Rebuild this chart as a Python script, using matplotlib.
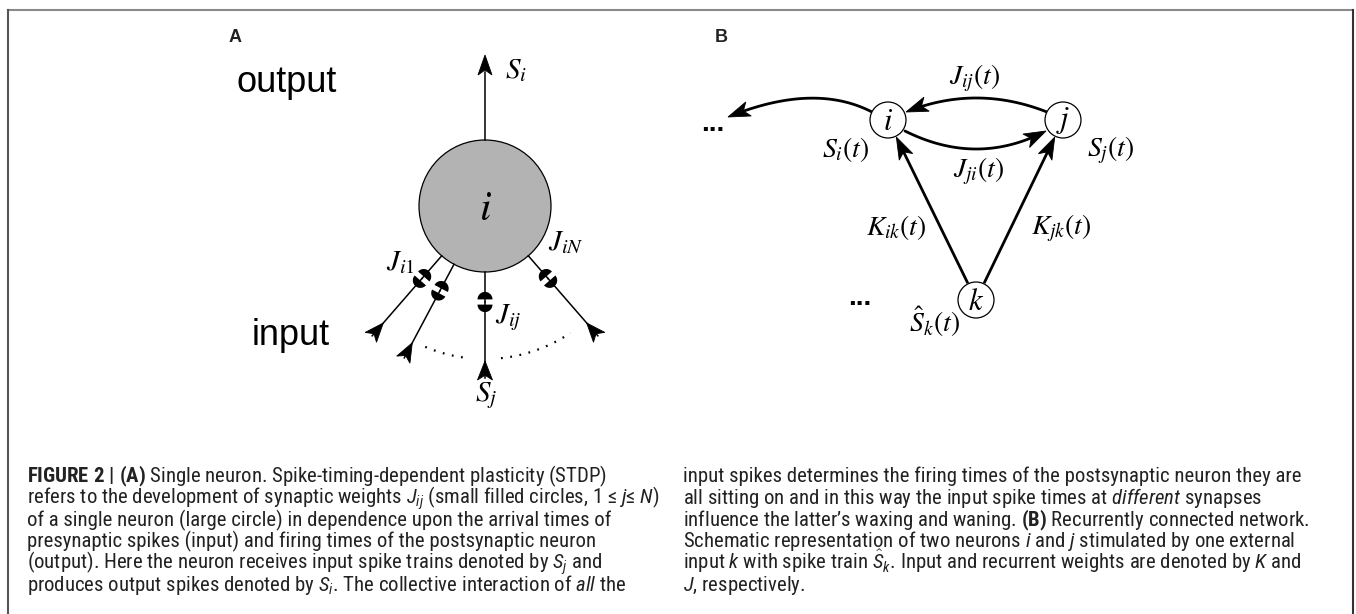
import matplotlib
matplotlib.use("Agg")
import matplotlib.pyplot as plt
from matplotlib import font_manager
from matplotlib.patches import Circle, Polygon
import numpy as np

# ---- diagram data (pixel layout of the original figure) ----
# panel A: single neuron
neuron_center = (485, 206)
neuron_radius = 66
input_angles = [131, 118, 90, 49]          # deg, screen coords (y down)
synapse_r = 96
input_end_r = 172
dot_arcs = [(113, 96), (84, 56)]
dot_arc_r = 153
a_labels = [r"$J_{i1}$", r"$J_{ij}$", r"$J_{iN}$", r"$S_i$", r"$S_j$"]
a_label_xy = [(400, 262), (508, 318), (566, 242), (516, 70), (486, 396)]

# panel B: recurrent network
node_names = ["i", "j", "k"]
node_xy = [(888, 120), (1063, 120), (976, 300)]
node_r = 18
b_labels = [r"$J_{ij}(t)$", r"$J_{ji}(t)$", r"$S_i(t)$", r"$S_j(t)$",
            r"$K_{ik}(t)$", r"$K_{jk}(t)$", r"$\hat{S}_k(t)$"]
b_label_xy = [(975, 78), (979, 171), (846, 150), (1111, 150),
              (896, 228), (1061, 228), (934, 322)]

# caption
caption_left = [
    r"$\mathbf{FIGURE\ 2\ |\ (A)}$ Single neuron. Spike-timing-dependent plasticity (STDP)",
    r"refers to the development of synaptic weights $J_{ij}$ (small filled circles, 1 ≤ $j$≤ $N$)",
    "of a single neuron (large circle) in dependence upon the arrival times of",
    "presynaptic spikes (input) and firing times of the postsynaptic neuron",
    r"(output). Here the neuron receives input spike trains denoted by $S_j$ and",
    r"produces output spikes denoted by $S_i$. The collective interaction of $all$ the",
]
caption_right = [
    "input spikes determines the firing times of the postsynaptic neuron they are",
    r"all sitting on and in this way the input spike times at $different$ synapses",
    r"influence the latter’s waxing and waning. $\mathbf{(B)}$ Recurrently connected network.",
    r"Schematic representation of two neurons $i$ and $j$ stimulated by one external",
    r"input $k$ with spike train $\hat{S}_k$. Input and recurrent weights are denoted by $K$ and",
    r"$J$, respectively.",
]
caption_baselines = [482, 504, 526, 547, 569, 591, 612]

# a narrow sans if one is around, otherwise Roboto
installed = {f.name for f in font_manager.fontManager.ttflist}
CAP_FONT = "Roboto"
for name in ["Roboto Condensed", "Liberation Sans Narrow", "Open Sans Condensed"]:
    if name in installed:
        CAP_FONT = name
        break

plt.rcParams["mathtext.fontset"] = "custom"
plt.rcParams["mathtext.rm"] = CAP_FONT
plt.rcParams["mathtext.it"] = CAP_FONT + ":italic"
plt.rcParams["mathtext.bf"] = CAP_FONT + ":bold"


def unit(v):
    v = np.asarray(v, float)
    return v / np.linalg.norm(v)


def head(ax, tip, direction, length=18, width=14, notch=0.25, lw=0.6):
    """Stealth style arrowhead, tip pointing along direction."""
    d = unit(direction)
    n = np.array([-d[1], d[0]])
    tip = np.asarray(tip, float)
    base = tip - d * length
    pts = [tip, base + n * width / 2, tip - d * length * (1 - notch), base - n * width / 2]
    ax.add_patch(Polygon(pts, closed=True, fc="k", ec="k", lw=lw, zorder=4))


def half_disc(ax, c, u, r):
    n = np.array([-u[1], u[0]])
    t = np.linspace(0, np.pi, 30)
    pts = [c + r * (np.cos(a) * n + np.sin(a) * u) for a in t]
    ax.add_patch(Polygon(pts, closed=True, fc="k", ec="none", zorder=4))


def bezier(p0, c, p2, n=80):
    t = np.linspace(0, 1, n)[:, None]
    p0, c, p2 = (np.asarray(p, float) for p in (p0, c, p2))
    return (1 - t) ** 2 * p0 + 2 * (1 - t) * t * c + t ** 2 * p2


fig = plt.figure(figsize=(13.56, 6.14), dpi=100)
ax = fig.add_axes([0, 0, 1, 1])
ax.set_xlim(0, 1356)
ax.set_ylim(614, 0)
ax.axis("off")

# frame
ax.plot([8, 1353], [10, 10], color="#8a8a8a", lw=1.5, solid_capstyle="butt")
ax.plot([8, 8], [10, 614], color="#555555", lw=1.5)
ax.plot([1353, 1353], [10, 614], color="#333333", lw=1.5)

# ---------- panel A ----------
ax.text(235, 38, "A", ha="center", va="center", fontsize=13, fontweight="bold",
        family="Liberation Sans", color="#222222")
ax.text(237, 92, "output", ha="left", va="baseline", fontsize=26,
        family="Liberation Sans")
ax.text(252, 345, "input", ha="left", va="baseline", fontsize=26,
        family="Liberation Sans")

cx, cy = neuron_center
ax.add_patch(Circle(neuron_center, neuron_radius, fc="#b3b3b3", ec="k", lw=0.9, zorder=2))
ax.text(cx, cy + 2, r"$i$", ha="center", va="center", fontsize=30, math_fontfamily="stix")

# output axon
ax.plot([cx, cx], [cy - neuron_radius, 72], color="k", lw=1.1)
head(ax, (cx, 55), (0, -1), length=20, width=14)

# input lines with synapses
gap = 2.6
for ang in input_angles:
    u = np.array([np.cos(np.radians(ang)), np.sin(np.radians(ang))])
    c = np.array(neuron_center, float)
    p_start = c + u * neuron_radius
    syn = c + u * synapse_r
    p_end = c + u * input_end_r
    ax.plot([p_start[0], syn[0]], [p_start[1], syn[1]], color="k", lw=1.1)
    ax.plot([syn[0], p_end[0]], [syn[1], p_end[1]], color="k", lw=1.1)
    half_disc(ax, syn - u * gap, -u, 7.5)
    half_disc(ax, syn + u * gap, u, 7.5)
    head(ax, c + u * (input_end_r - 17), -u, length=19, width=15)

for a0, a1 in dot_arcs:
    th = np.radians(np.linspace(a0, a1, 60))
    ax.plot(cx + dot_arc_r * np.cos(th), cy + dot_arc_r * np.sin(th),
            color="k", lw=1.6, linestyle=(0, (0.8, 3.4)))

for lab, (x, y) in zip(a_labels, a_label_xy):
    ax.text(x, y, lab, ha="center", va="center", fontsize=21, math_fontfamily="stix")

# ---------- panel B ----------
ax.text(721, 38, "B", ha="center", va="center", fontsize=13, fontweight="bold",
        family="Liberation Sans", color="#222222")

for name, xy in zip(node_names, node_xy):
    ax.add_patch(Circle(xy, node_r, fc="white", ec="k", lw=0.9, zorder=3))
    ax.text(xy[0], xy[1] + 1, "$" + name + "$", ha="center", va="center",
            fontsize=22, math_fontfamily="stix", zorder=4)

pi, pj, pk = (np.array(p, float) for p in node_xy)
blw = 2.0

# curves: (start, control, end)
curves = [
    ((872, 112), (814, 82), (728, 117)),     # i -> outside
    ((1047, 112), (976, 84), (906, 112)),    # j -> i
    ((905, 131), (977, 167), (1046, 131)),   # i -> j
]
for p0, cc, p2 in curves:
    pts = bezier(p0, cc, p2)
    ax.plot(pts[:-6, 0], pts[:-6, 1], color="k", lw=blw, solid_capstyle="round")
    head(ax, pts[-1], pts[-1] - pts[-5], length=22, width=15)

# input lines from k
for tgt in (pi, pj):
    d = unit(tgt - pk)
    p0 = pk + d * (node_r + 2)
    p1 = tgt - d * (node_r + 1)
    ax.plot([p0[0], p1[0] - d[0] * 10], [p0[1], p1[1] - d[1] * 10], color="k", lw=blw)
    head(ax, p1, d, length=22, width=15)

ax.text(713, 124, "...", ha="center", va="center", fontsize=20, fontweight="bold",
        family="Liberation Sans")
ax.text(860, 298, "...", ha="center", va="center", fontsize=20, fontweight="bold",
        family="Liberation Sans")

for lab, (x, y) in zip(b_labels, b_label_xy):
    ax.text(x, y, lab, ha="center", va="center", fontsize=20, math_fontfamily="stix")

# ---------- caption ----------
cap_texts = []
for lines, x0 in ((caption_left, 27), (caption_right, 683)):
    for txt, yb in zip(lines, caption_baselines):
        t = ax.text(x0, yb, txt, ha="left", va="baseline", fontsize=12,
                    family=[CAP_FONT, "DejaVu Sans"], color="#222222",
                    math_fontfamily="custom")
        cap_texts.append(t)

# fit the caption size to the column widths of the original
fig.canvas.draw()
r = fig.canvas.get_renderer()
w_left = max(t.get_window_extent(r).width for t in cap_texts[:6])
w_right = max(t.get_window_extent(r).width for t in cap_texts[6:])
scale = 0.5 * (628 / w_left + 629 / w_right)
for t in cap_texts:
    t.set_fontsize(12 * scale)

fig.savefig("out.png", dpi=100, facecolor="white")
